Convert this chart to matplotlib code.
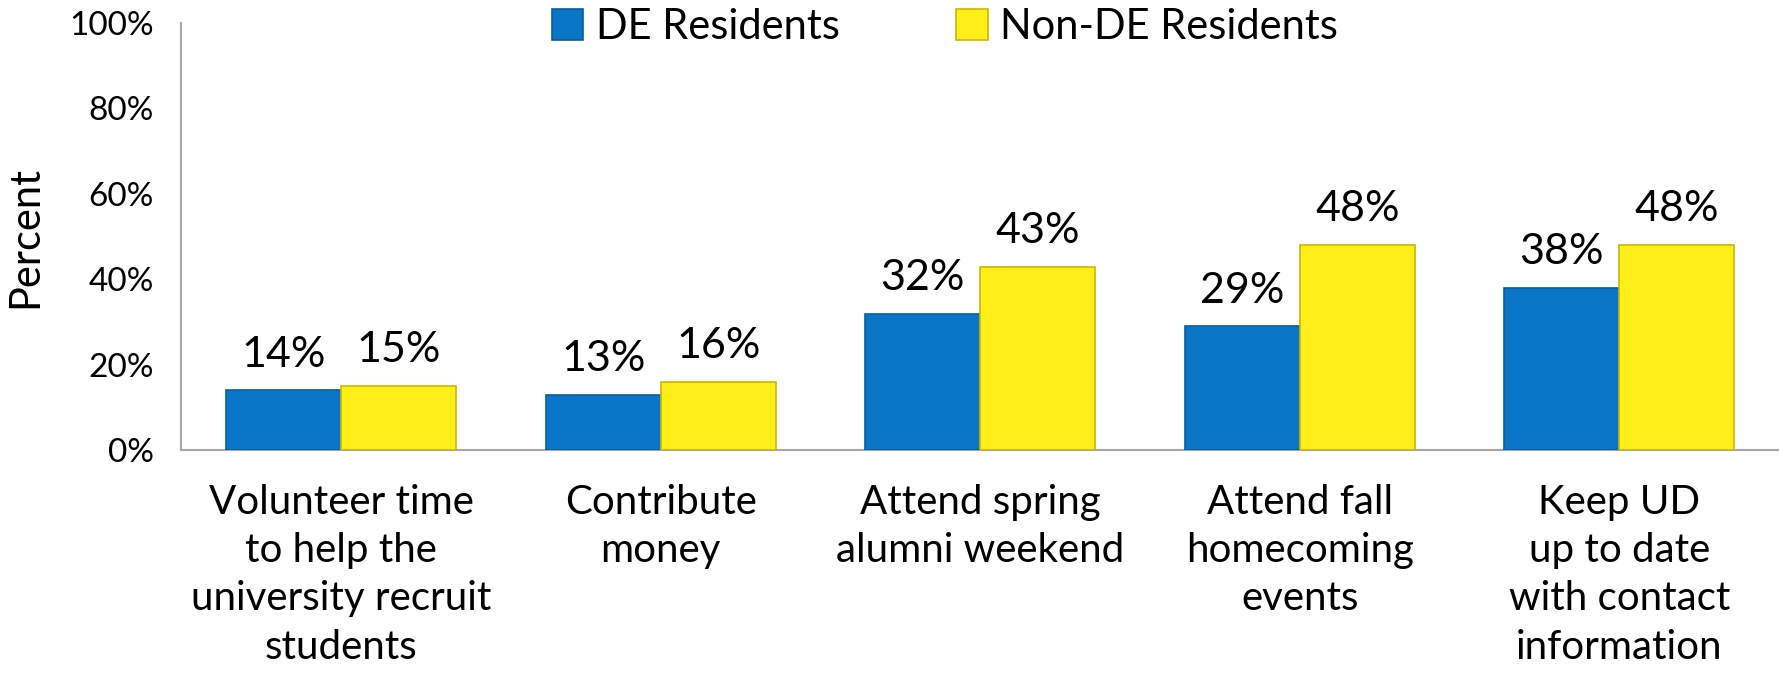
import matplotlib
matplotlib.use("Agg")
import matplotlib.pyplot as plt
import numpy as np

plt.rcParams['font.family'] = ['Lato', 'DejaVu Sans']

# data
categories = [
    "Volunteer time\nto help the\nuniversity recruit\nstudents",
    "Contribute\nmoney",
    "Attend spring\nalumni weekend",
    "Attend fall\nhomecoming\nevents",
    "Keep UD\nup to date\nwith contact\ninformation",
]
de_residents = [14, 13, 32, 29, 38]
non_de_residents = [15, 16, 43, 48, 48]
series_names = ["DE Residents", "Non-DE Residents"]
y_ticks = [0, 20, 40, 60, 80, 100]

blue = "#0A76C7"
blue_edge = "#0A5C9C"
yellow = "#FFEE18"
yellow_edge = "#C9B800"

fig = plt.figure(figsize=(17.79, 6.77), dpi=100)
ax = fig.add_axes([0.102, 0.335, 0.898, 0.631])

x = np.arange(len(categories))
w = 0.36

b1 = ax.bar(x - w / 2, de_residents, w, color=blue, edgecolor=blue_edge,
            linewidth=1.2, label=series_names[0], zorder=3)
b2 = ax.bar(x + w / 2, non_de_residents, w, color=yellow, edgecolor=yellow_edge,
            linewidth=1.2, label=series_names[1], zorder=3)

for bars, vals in [(b1, de_residents), (b2, non_de_residents)]:
    for rect, v in zip(bars, vals):
        ax.annotate(f"{v}%", (rect.get_x() + rect.get_width() / 2, v),
                    xytext=(0, 12), textcoords="offset points",
                    ha="center", va="bottom", fontsize=31, color="black")

ax.set_xlim(-0.5, len(categories) - 0.5)
ax.set_ylim(0, 100)
ax.set_yticks(y_ticks)
ax.set_yticklabels([f"{t}%" for t in y_ticks], fontsize=24)
ax.set_xticks(x)
ax.set_xticklabels(categories, fontsize=29, linespacing=1.38)
ax.tick_params(axis="both", length=0)
ax.tick_params(axis="x", pad=24)
ax.tick_params(axis="y", pad=20)

ax.set_ylabel("Percent", fontsize=30, labelpad=18)

for s in ["top", "right"]:
    ax.spines[s].set_visible(False)
for s in ["left", "bottom"]:
    ax.spines[s].set_color("#A6A6A6")
    ax.spines[s].set_linewidth(1.5)

ax.legend(loc="center", bbox_to_anchor=(0.478, 0.99), ncol=2, frameon=False,
          fontsize=30, handlelength=0.75, handleheight=0.75, handletextpad=0.3,
          columnspacing=2.8)

fig.savefig("out.png", dpi=100)
